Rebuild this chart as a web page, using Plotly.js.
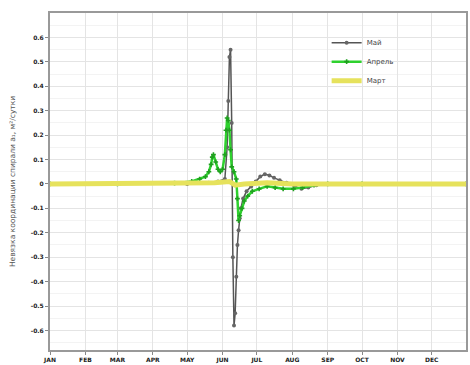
<!DOCTYPE html>
<html><head><meta charset="utf-8">
<script src="https://cdn.plot.ly/plotly-3.0.1.min.js"></script>
<style>html,body{margin:0;padding:0;background:#fff}#c{width:470px;height:365px}</style>
</head><body><div id="c"></div>
<script>
const monthTicks = ['2019-01-01','2019-02-01','2019-03-01','2019-04-01','2019-05-01','2019-06-01','2019-07-01','2019-08-01','2019-09-01','2019-10-01','2019-11-01','2019-12-01'];
const monthLabels = ['JAN','FEB','MAR','APR','MAY','JUN','JUL','AUG','SEP','OCT','NOV','DEC'];

const mayDates = ['2019-01-01','2019-03-01','2019-05-01','2019-05-20','2019-05-28','2019-06-03','2019-06-05','2019-06-06','2019-06-07','2019-06-08','2019-06-09','2019-06-10','2019-06-11','2019-06-12','2019-06-13','2019-06-14','2019-06-15','2019-06-16','2019-06-17','2019-06-19','2019-06-22','2019-06-26','2019-06-30','2019-07-04','2019-07-08','2019-07-12','2019-07-16','2019-07-21','2019-07-27','2019-08-03','2019-08-09','2019-08-15','2019-08-22','2019-09-01','2019-10-01','2019-11-01','2019-12-31'];
const mayValues = [0,0,0,0.005,0.01,0.02,0.15,0.34,0.52,0.55,0.25,-0.30,-0.58,-0.53,-0.38,-0.25,-0.19,-0.14,-0.10,-0.06,-0.03,-0.01,0.01,0.03,0.04,0.035,0.025,0.015,0.005,-0.01,-0.02,-0.015,-0.005,0,0,0,0];

const aprDates = ['2019-01-01','2019-03-01','2019-04-20','2019-05-05','2019-05-12','2019-05-17','2019-05-20','2019-05-22','2019-05-23','2019-05-24','2019-05-26','2019-05-28','2019-05-30','2019-06-01','2019-06-03','2019-06-04','2019-06-05','2019-06-06','2019-06-07','2019-06-08','2019-06-09','2019-06-11','2019-06-13','2019-06-14','2019-06-15','2019-06-16','2019-06-18','2019-06-20','2019-06-23','2019-06-27','2019-07-03','2019-07-10','2019-07-17','2019-07-24','2019-08-02','2019-08-10','2019-08-20','2019-09-01','2019-10-01','2019-12-31'];
const aprValues = [0,0,0.003,0.01,0.02,0.03,0.05,0.08,0.11,0.12,0.09,0.06,0.05,0.06,0.12,0.22,0.27,0.26,0.22,0.14,0.07,0.05,0.02,-0.06,-0.15,-0.13,-0.10,-0.07,-0.05,-0.03,-0.02,-0.01,-0.015,-0.02,-0.02,-0.015,-0.005,0,0,0];

const marDates = ['2019-01-01','2019-03-01','2019-05-01','2019-05-25','2019-06-07','2019-06-12','2019-06-20','2019-07-10','2019-08-01','2019-09-01','2019-12-31'];
const marValues = [0,0,0,0.005,0.01,-0.005,0,0.005,0,0,0];

const traces = [
  {x: mayDates, y: mayValues, name: 'Май', type: 'scatter', mode: 'lines+markers',
   line: {color: '#555555', width: 1.5}, marker: {color: '#666666', size: 4, symbol: 'circle'}},
  {x: aprDates, y: aprValues, name: 'Апрель', type: 'scatter', mode: 'lines+markers',
   line: {color: '#2ed12e', width: 2.5}, marker: {color: '#1fa01f', size: 4, symbol: 'cross'}},
  {x: marDates, y: marValues, name: 'Март', type: 'scatter', mode: 'lines',
   line: {color: '#e6e25c', width: 5}}
];

const layout = {
  width: 470, height: 365,
  margin: {l: 50, r: 4, t: 13, b: 15},
  paper_bgcolor: '#ffffff', plot_bgcolor: '#ffffff',
  font: {family: 'DejaVu Sans, sans-serif', size: 6, color: '#333'},
  showlegend: true,
  legend: {x: 0.665, y: 0.955, xanchor: 'left', yanchor: 'top', bgcolor: 'rgba(0,0,0,0)',
           font: {size: 7, color: '#444'}, tracegroupgap: 0, itemwidth: 30},
  xaxis: {type: 'date', range: ['2019-01-01','2019-12-31'],
          tickvals: monthTicks, ticktext: monthLabels,
          tickfont: {size: 6, color: '#222', weight: 'bold'},
          showgrid: true, gridcolor: '#e4e4e4', gridwidth: 1,
          ticks: 'outside', ticklen: 3, tickcolor: '#888',
          showline: true, linecolor: '#999', linewidth: 2, mirror: true, zeroline: false},
  yaxis: {range: [-0.68, 0.70], tickvals: [-0.6,-0.5,-0.4,-0.3,-0.2,-0.1,0,0.1,0.2,0.3,0.4,0.5,0.6],
          ticktext: ['-0.6','-0.5','-0.4','-0.3','-0.2','-0.1','0','0.1','0.2','0.3','0.4','0.5','0.6'],
          tickfont: {size: 6, color: '#222', weight: 'bold'},
          showgrid: true, gridcolor: '#e4e4e4', gridwidth: 1,
          minor: {dtick: 0.05, showgrid: true, gridcolor: '#f3f3f3'},
          ticks: 'outside', ticklen: 3, tickcolor: '#888',
          showline: true, linecolor: '#999', linewidth: 2, mirror: true, zeroline: false,
          title: {text: 'Невязка координации спирали a₁, м²/сутки', font: {size: 7.5, color: '#555'}, standoff: 14}}
};

Plotly.newPlot('c', traces, layout, {displayModeBar: false, staticPlot: true});
</script></body></html>
